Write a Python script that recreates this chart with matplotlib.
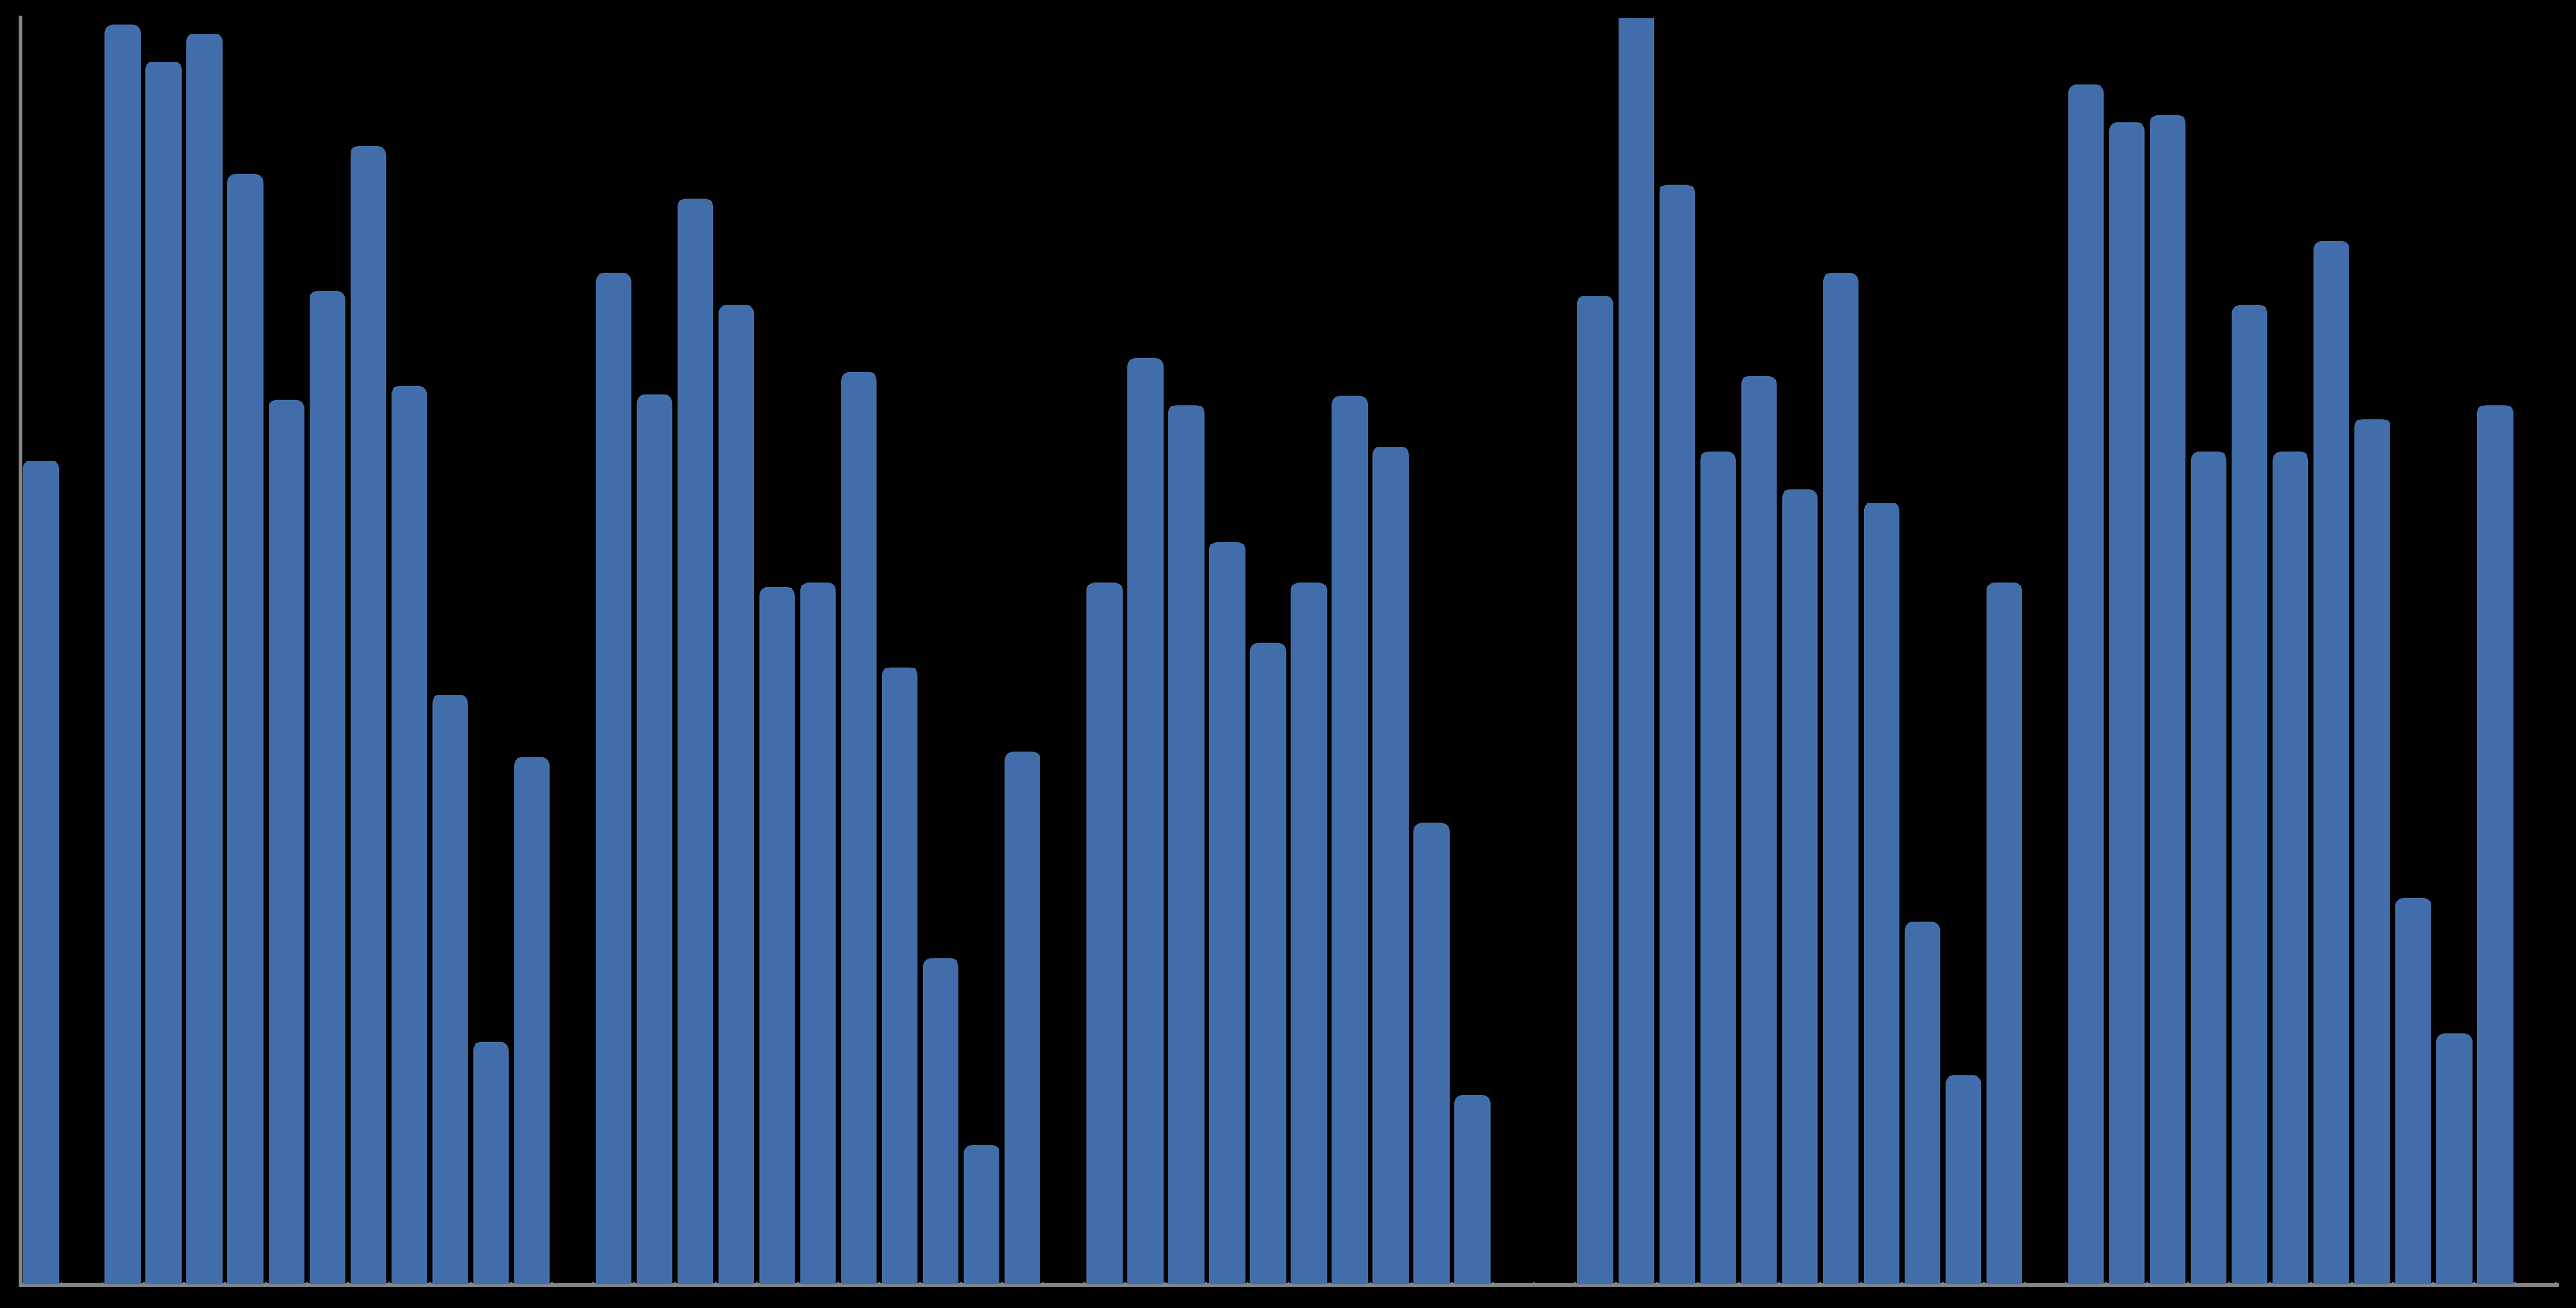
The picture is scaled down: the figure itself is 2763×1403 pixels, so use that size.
import numpy as np
import matplotlib
matplotlib.use("Agg")
import matplotlib.pyplot as plt
from matplotlib.patches import FancyBboxPatch

# 62 category slots; NaN = empty slot (no bar)
slots = list(range(62))
values = [
    65.0, np.nan, 99.4, 96.5, 98.7, 87.6, 69.8, 78.4, 89.8, 70.9, 46.5, 19.1, 41.6,
    np.nan, 79.8, 70.2, 85.7, 77.3, 55.0, 55.4, 72.0, 48.7, 25.7, 11.0, 42.0,
    np.nan, 55.4, 73.1, 69.4, 58.6, 50.6, 55.4, 70.1, 66.1, 36.4, 14.9,
    np.nan, np.nan, 78.0, 103.0, 86.8, 65.7, 71.7, 62.7, 79.8, 61.7, 28.6, 16.5, 55.4,
    np.nan, 94.7, 91.7, 92.3, 65.7, 77.3, 65.7, 82.3, 68.3, 30.5, 19.8, 69.4,
    np.nan,
]
y_max = 100

BAR_COLOR = "#416EAA"
EDGE_COLOR = "#4A78B4"
AXIS_COLOR = "#868686"

W, H, DPI = 2763, 1403, 100
fig = plt.figure(figsize=(W / DPI, H / DPI), dpi=DPI, facecolor="black")
ax = fig.add_axes([22 / W, 25 / H, (2742 - 22) / W, (1378 - 19) / H])
ax.set_facecolor("black")

ax.set_xlim(-0.5, len(slots) - 0.5)
ax.set_ylim(0, y_max)

xs = [s for s, v in zip(slots, values) if not np.isnan(v)]
hs = [v for v in values if not np.isnan(v)]
bars = ax.bar(xs, hs, width=0.85, color=BAR_COLOR, zorder=2)

# pixel geometry for round tops
fig.canvas.draw()
bbox = ax.get_window_extent()
px_per_x = bbox.width / (ax.get_xlim()[1] - ax.get_xlim()[0])
px_per_y = bbox.height / (ax.get_ylim()[1] - ax.get_ylim()[0])
aspect = px_per_x / px_per_y
r_x = 9.0 / px_per_x

for rect in bars.patches:
    x0, w, h = rect.get_x(), rect.get_width(), rect.get_height()
    ry = r_x * aspect
    patch = FancyBboxPatch((x0, -ry), w, h + ry,
                           boxstyle=f"round,pad=0,rounding_size={r_x}",
                           mutation_aspect=aspect,
                           facecolor=BAR_COLOR, edgecolor=EDGE_COLOR,
                           linewidth=0.8, zorder=2, clip_on=True)
    ax.add_patch(patch)
    rect.remove()

# axes styling
for side in ("top", "right"):
    ax.spines[side].set_visible(False)
ax.spines["left"].set_color(AXIS_COLOR)
ax.spines["left"].set_linewidth(3.2)
ax.spines["bottom"].set_color(AXIS_COLOR)
ax.spines["bottom"].set_linewidth(3.6)
ax.spines["bottom"].set_zorder(1)
ax.axhline(0, color=AXIS_COLOR, linewidth=1.2, zorder=3)

ax.set_yticks([])
ax.set_xticks([])
ax.set_xticks(np.arange(-0.5, len(slots) + 0.5, 1.0), minor=True)
ax.tick_params(axis="x", which="minor", direction="inout", length=5,
               width=1.2, color=AXIS_COLOR, labelbottom=False)

fig.savefig("out.png", dpi=DPI, facecolor="black")
